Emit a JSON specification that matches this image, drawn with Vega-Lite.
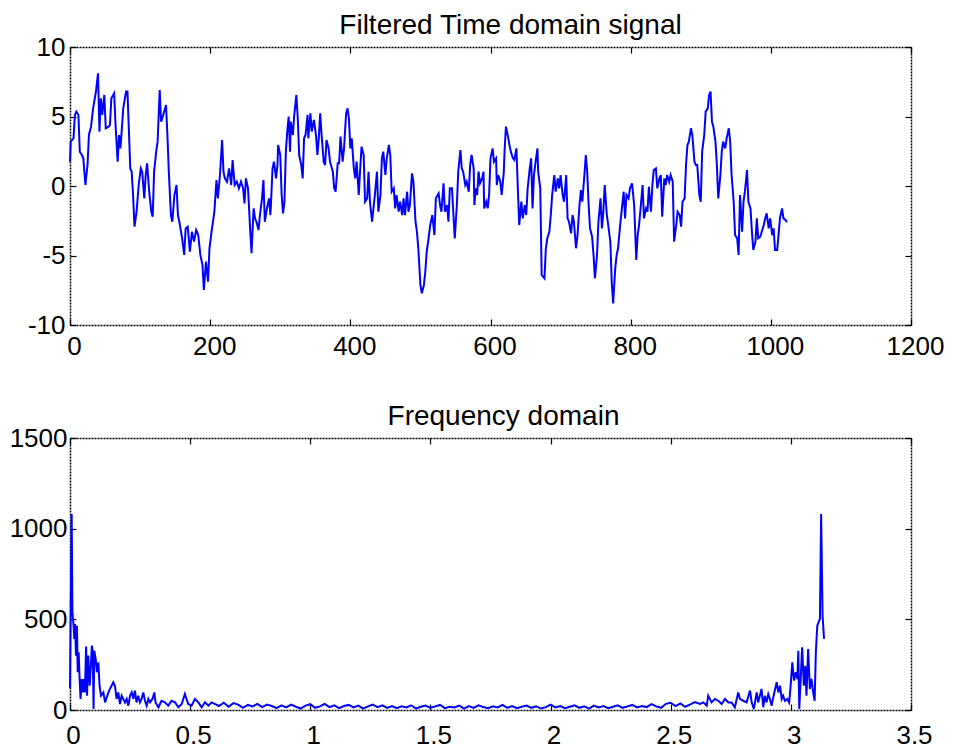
{
  "$schema": "https://vega.github.io/schema/vega-lite/v6.json",
  "background": "white",
  "padding": {"left": 9, "top": 12, "right": 5, "bottom": 0},
  "spacing": 44,
  "config": {
    "view": {"stroke": null},
    "font": "Liberation Sans",
    "axis": {
      "domainColor": "black", "domainDash": [2, 1], "domainWidth": 1.5,
      "tickColor": "black", "tickSize": -6, "tickWidth": 1.2,
      "grid": false, "labelFont": "Liberation Sans", "labelFontSize": 26,
      "labelColor": "black", "labelFlush": false, "labelOverlap": false, "labelBound": false
    },
    "title": {"font": "Liberation Sans", "fontSize": 28, "fontWeight": "normal", "color": "black", "anchor": "middle", "baseline": "alphabetic", "offset": -6}
  },
  "datasets": {
    "sig": [
      {"n":0,"v":1.75},{"n":1,"v":3.19},{"n":5,"v":3.43},{"n":7,"v":5.11},{"n":9,"v":5.35},{"n":12,"v":5.11},{"n":14,"v":2.47},{"n":17,"v":2.23},{"n":19,"v":1.99},{"n":22,"v":0.07},{"n":25,"v":1.51},{"n":27,"v":3.67},{"n":30,"v":4.27},{"n":33,"v":5.59},{"n":37,"v":6.79},{"n":40,"v":8.11},{"n":42,"v":3.91},{"n":44,"v":6.31},{"n":46,"v":5.11},{"n":49,"v":6.55},{"n":51,"v":4.15},{"n":55,"v":4.27},{"n":57,"v":4.39},{"n":59,"v":6.31},{"n":63,"v":6.67},{"n":65,"v":4.39},{"n":68,"v":1.75},{"n":70,"v":3.67},{"n":72,"v":2.71},{"n":76,"v":5.59},{"n":80,"v":6.79},{"n":82,"v":6.79},{"n":86,"v":1.27},{"n":88,"v":1.03},{"n":90,"v":-0.65},{"n":92,"v":-2.93},{"n":95,"v":-1.85},{"n":98,"v":0.07},{"n":101,"v":1.27},{"n":103,"v":1.03},{"n":106,"v":-0.89},{"n":108,"v":0.79},{"n":110,"v":1.63},{"n":113,"v":-0.41},{"n":116,"v":-1.85},{"n":118,"v":-2.21},{"n":120,"v":1.03},{"n":123,"v":2.47},{"n":125,"v":3.19},{"n":128,"v":6.91},{"n":130,"v":4.63},{"n":133,"v":5.11},{"n":137,"v":5.83},{"n":139,"v":3.67},{"n":141,"v":1.03},{"n":144,"v":-2.09},{"n":146,"v":-2.57},{"n":149,"v":-0.65},{"n":152,"v":0.07},{"n":154,"v":-2.09},{"n":156,"v":-2.57},{"n":160,"v":-3.77},{"n":163,"v":-4.96},{"n":165,"v":-3.05},{"n":168,"v":-2.93},{"n":171,"v":-4.72},{"n":174,"v":-3.29},{"n":177,"v":-4.0},{"n":180,"v":-3.17},{"n":183,"v":-3.53},{"n":186,"v":-4.96},{"n":189,"v":-5.68},{"n":191,"v":-7.48},{"n":194,"v":-5.44},{"n":197,"v":-6.88},{"n":199,"v":-4.48},{"n":202,"v":-3.29},{"n":206,"v":-1.85},{"n":209,"v":0.43},{"n":211,"v":-0.89},{"n":214,"v":0.79},{"n":217,"v":3.31},{"n":219,"v":1.03},{"n":221,"v":0.55},{"n":224,"v":0.31},{"n":227,"v":1.27},{"n":230,"v":0.07},{"n":232,"v":1.87},{"n":235,"v":0.07},{"n":238,"v":0.31},{"n":241,"v":-0.17},{"n":244,"v":0.31},{"n":247,"v":-0.17},{"n":249,"v":-1.25},{"n":251,"v":0.55},{"n":254,"v":-0.17},
      {"n":257,"v":-3.05},{"n":259,"v":-4.84},{"n":262,"v":-1.61},{"n":264,"v":-2.33},{"n":266,"v":-2.57},{"n":269,"v":-3.17},{"n":271,"v":-2.09},{"n":274,"v":-0.89},{"n":276,"v":0.43},{"n":278,"v":-2.57},{"n":281,"v":-1.61},{"n":284,"v":-0.89},{"n":286,"v":-2.09},{"n":289,"v":1.27},{"n":291,"v":1.75},{"n":294,"v":0.55},{"n":296,"v":1.51},{"n":297,"v":2.95},{"n":300,"v":2.23},{"n":302,"v":-0.65},{"n":304,"v":-1.97},{"n":306,"v":-1.13},{"n":308,"v":2.47},{"n":310,"v":3.91},{"n":312,"v":4.99},{"n":314,"v":2.47},{"n":315,"v":4.63},{"n":318,"v":3.67},{"n":320,"v":5.11},{"n":323,"v":6.55},{"n":325,"v":4.87},{"n":327,"v":2.23},{"n":330,"v":1.51},{"n":332,"v":0.55},{"n":334,"v":3.43},{"n":336,"v":3.67},{"n":339,"v":5.11},{"n":340,"v":3.43},{"n":343,"v":5.23},{"n":345,"v":3.91},{"n":348,"v":4.75},{"n":351,"v":3.67},{"n":353,"v":2.23},{"n":355,"v":3.43},{"n":357,"v":5.23},{"n":359,"v":3.67},{"n":362,"v":1.75},{"n":364,"v":1.51},{"n":366,"v":3.31},{"n":369,"v":2.71},{"n":371,"v":1.75},{"n":375,"v":1.03},{"n":377,"v":-0.17},{"n":379,"v":-0.41},{"n":382,"v":1.63},{"n":384,"v":1.63},{"n":386,"v":3.55},{"n":389,"v":1.75},{"n":391,"v":2.71},{"n":394,"v":5.23},{"n":396,"v":5.59},{"n":398,"v":4.87},{"n":400,"v":2.71},{"n":402,"v":3.43},{"n":405,"v":1.27},{"n":407,"v":0.55},{"n":409,"v":1.75},{"n":412,"v":-0.65},{"n":414,"v":1.15},{"n":416,"v":2.83},{"n":419,"v":2.23},{"n":421,"v":-1.13},{"n":424,"v":-0.89},{"n":426,"v":1.03},{"n":428,"v":-1.13},{"n":431,"v":-2.57},{"n":433,"v":-1.61},{"n":435,"v":-0.65},{"n":438,"v":1.03},{"n":440,"v":-1.85},{"n":443,"v":-0.65},{"n":445,"v":1.99},{"n":447,"v":2.47},{"n":450,"v":0.79},{"n":452,"v":1.99},{"n":455,"v":2.95},{"n":457,"v":2.23},{"n":459,"v":-0.41},{"n":462,"v":-0.17},{"n":464,"v":-1.61},{"n":466,"v":-0.65},{"n":469,"v":-1.85},{"n":471,"v":-1.13},{"n":474,"v":-2.09},{"n":476,"v":-0.89},{"n":478,"v":-2.09},{"n":481,"v":-0.41},{"n":483,"v":-1.85},{"n":485,"v":-1.37},{"n":488,"v":0.91},{"n":490,"v":0.31},{"n":493,"v":-2.57},{"n":495,"v":-3.29},{"n":497,"v":-4.48},{"n":500,"v":-7.12},{"n":502,"v":-7.72},{"n":505,"v":-7.12},
      {"n":507,"v":-6.16},{"n":509,"v":-4.72},{"n":511,"v":-4.01},{"n":514,"v":-2.81},{"n":517,"v":-2.09},{"n":520,"v":-3.53},{"n":522,"v":-0.89},{"n":526,"v":-0.53},{"n":528,"v":-1.37},{"n":530,"v":-1.85},{"n":533,"v":0.19},{"n":535,"v":-1.85},{"n":538,"v":-1.37},{"n":540,"v":-2.57},{"n":542,"v":-0.17},{"n":545,"v":-0.17},{"n":549,"v":-3.77},{"n":552,"v":-1.37},{"n":554,"v":1.03},{"n":557,"v":2.59},{"n":559,"v":1.27},{"n":561,"v":1.03},{"n":564,"v":0.07},{"n":566,"v":0.31},{"n":569,"v":-0.41},{"n":571,"v":1.51},{"n":573,"v":2.23},{"n":576,"v":1.27},{"n":577,"v":-1.37},{"n":579,"v":-0.17},{"n":581,"v":-0.65},{"n":583,"v":1.03},{"n":585,"v":0.19},{"n":588,"v":0.55},{"n":590,"v":1.03},{"n":591,"v":-1.61},{"n":594,"v":-1.13},{"n":596,"v":-1.61},{"n":598,"v":-0.65},{"n":600,"v":1.99},{"n":603,"v":2.71},{"n":605,"v":1.75},{"n":608,"v":1.99},{"n":609,"v":0.07},{"n":611,"v":0.79},{"n":614,"v":0.31},{"n":616,"v":-0.65},{"n":619,"v":1.03},{"n":620,"v":2.47},{"n":622,"v":4.27},{"n":625,"v":3.55},{"n":627,"v":2.95},{"n":629,"v":2.47},{"n":632,"v":1.99},{"n":634,"v":1.87},{"n":637,"v":2.71},{"n":639,"v":-0.17},{"n":641,"v":-2.81},{"n":644,"v":-1.13},{"n":646,"v":-2.33},{"n":649,"v":-1.37},{"n":651,"v":-2.09},{"n":653,"v":-0.17},{"n":656,"v":1.27},{"n":658,"v":1.99},{"n":660,"v":-1.61},{"n":662,"v":0.79},{"n":665,"v":1.99},{"n":667,"v":2.71},{"n":668,"v":1.03},{"n":671,"v":-0.17},{"n":673,"v":-6.4},{"n":677,"v":-6.64},{"n":679,"v":-4.48},{"n":681,"v":-3.77},{"n":684,"v":-3.29},{"n":686,"v":-2.09},{"n":688,"v":-0.65},{"n":691,"v":0.79},{"n":693,"v":-0.41},{"n":696,"v":0.55},{"n":698,"v":-0.17},{"n":700,"v":0.79},{"n":703,"v":-0.65},{"n":705,"v":-1.13},{"n":708,"v":0.79},{"n":710,"v":-2.33},{"n":712,"v":-2.57},{"n":715,"v":-3.41},{"n":717,"v":-2.09},{"n":719,"v":-2.57},{"n":722,"v":-4.48},{"n":724,"v":-3.65},{"n":727,"v":-1.37},{"n":729,"v":-0.29},{"n":731,"v":-1.13},{"n":734,"v":0.79},{"n":736,"v":2.23},{"n":738,"v":1.03},{"n":740,"v":-1.37},{"n":742,"v":-3.05},{"n":745,"v":-3.65},{"n":747,"v":-4.96},{"n":749,"v":-6.64},{"n":752,"v":-4.96},{"n":754,"v":-2.57},{"n":757,"v":-0.89},{"n":759,"v":-3.05},{"n":761,"v":-1.85},
      {"n":763,"v":0.07},{"n":766,"v":-2.09},{"n":768,"v":-2.81},{"n":771,"v":-4.01},{"n":773,"v":-6.88},{"n":775,"v":-8.44},{"n":778,"v":-5.92},{"n":780,"v":-4.96},{"n":782,"v":-4.48},{"n":785,"v":-2.81},{"n":787,"v":-1.85},{"n":790,"v":-0.41},{"n":792,"v":-2.33},{"n":794,"v":-0.65},{"n":797,"v":-0.89},{"n":799,"v":-0.17},{"n":802,"v":0.19},{"n":805,"v":-1.37},{"n":808,"v":-5.32},{"n":810,"v":-3.53},{"n":812,"v":-2.81},{"n":815,"v":-1.13},{"n":817,"v":0.07},{"n":819,"v":-2.33},{"n":822,"v":-1.61},{"n":824,"v":-1.85},{"n":826,"v":-0.05},{"n":829,"v":-1.85},{"n":831,"v":0.07},{"n":833,"v":1.15},{"n":836,"v":1.27},{"n":838,"v":-0.17},{"n":841,"v":0.55},{"n":843,"v":0.79},{"n":845,"v":-2.21},{"n":848,"v":0.55},{"n":850,"v":0.07},{"n":852,"v":0.79},{"n":855,"v":0.31},{"n":857,"v":0.79},{"n":860,"v":0.31},{"n":862,"v":-4.01},{"n":865,"v":-2.81},{"n":867,"v":-1.85},{"n":870,"v":-2.09},{"n":872,"v":-2.93},{"n":874,"v":-1.13},{"n":877,"v":-0.89},{"n":879,"v":1.51},{"n":881,"v":2.95},{"n":883,"v":3.19},{"n":886,"v":4.15},{"n":888,"v":3.67},{"n":891,"v":1.75},{"n":893,"v":1.51},{"n":895,"v":1.51},{"n":898,"v":-0.65},{"n":900,"v":-1.13},{"n":902,"v":2.47},{"n":905,"v":3.67},{"n":907,"v":5.35},{"n":910,"v":5.59},{"n":912,"v":6.55},{"n":914,"v":6.79},{"n":916,"v":4.63},{"n":918,"v":4.27},{"n":921,"v":3.19},{"n":923,"v":1.51},{"n":925,"v":-0.89},{"n":928,"v":0.79},{"n":930,"v":2.47},{"n":932,"v":3.19},{"n":935,"v":2.71},{"n":937,"v":3.43},{"n":940,"v":4.15},{"n":942,"v":3.19},{"n":944,"v":0.79},{"n":947,"v":-1.13},{"n":949,"v":-3.53},{"n":952,"v":-3.77},{"n":954,"v":-4.96},{"n":956,"v":-0.65},{"n":959,"v":-3.29},{"n":961,"v":-1.13},{"n":963,"v":-0.41},{"n":966,"v":1.15},{"n":968,"v":-1.13},{"n":971,"v":-1.61},{"n":973,"v":-3.29},{"n":975,"v":-4.6},{"n":978,"v":-4.01},{"n":980,"v":-2.33},{"n":982,"v":-3.77},{"n":985,"v":-3.65},{"n":987,"v":-3.29},{"n":990,"v":-2.81},{"n":992,"v":-2.33},{"n":994,"v":-1.97},{"n":997,"v":-3.05},{"n":999,"v":-2.33},{"n":1002,"v":-3.53},{"n":1004,"v":-3.05},{"n":1006,"v":-4.6},{"n":1009,"v":-4.6},{"n":1011,"v":-3.53},{"n":1013,"v":-2.33},{"n":1016,"v":-1.61},{"n":1018,"v":-2.33},{"n":1021,"v":-2.45},{"n":1023,"v":-2.6}
    ],
    "spec": [
      {"f":0,"a":120},{"f":0.003,"a":560},{"f":0.007,"a":1081},{"f":0.01,"a":539},{"f":0.014,"a":483},{"f":0.018,"a":392},{"f":0.021,"a":474},{"f":0.025,"a":300},{"f":0.029,"a":465},{"f":0.032,"a":208},{"f":0.036,"a":318},{"f":0.04,"a":171},{"f":0.044,"a":61},{"f":0.049,"a":171},{"f":0.053,"a":97},{"f":0.058,"a":171},{"f":0.062,"a":97},{"f":0.067,"a":350},{"f":0.071,"a":79},{"f":0.076,"a":300},{"f":0.082,"a":134},{"f":0.087,"a":244},{"f":0.091,"a":355},{"f":0.095,"a":318},{"f":0.098,"a":6},{"f":0.101,"a":327},{"f":0.107,"a":281},{"f":0.112,"a":208},{"f":0.118,"a":263},{"f":0.123,"a":134},{"f":0.129,"a":79},{"f":0.139,"a":97},{"f":0.146,"a":42},{"f":0.153,"a":70},{"f":0.16,"a":97},{"f":0.166,"a":116},{"f":0.173,"a":134},{"f":0.18,"a":153},{"f":0.187,"a":134},{"f":0.194,"a":61},{"f":0.201,"a":97},{"f":0.208,"a":33},{"f":0.215,"a":79},{"f":0.222,"a":61},{"f":0.229,"a":42},{"f":0.236,"a":61},{"f":0.243,"a":24},{"f":0.25,"a":79},{"f":0.257,"a":97},{"f":0.264,"a":61},{"f":0.27,"a":107},{"f":0.277,"a":42},{"f":0.284,"a":79},{"f":0.291,"a":42},{"f":0.298,"a":61},{"f":0.305,"a":97},{"f":0.312,"a":51},{"f":0.319,"a":24},{"f":0.326,"a":61},{"f":0.333,"a":42},{"f":0.343,"a":61},{"f":0.351,"a":97},{"f":0.356,"a":42},{"f":0.368,"a":15},{"f":0.381,"a":51},{"f":0.395,"a":42},{"f":0.409,"a":24},{"f":0.423,"a":51},{"f":0.437,"a":42},{"f":0.451,"a":15},{"f":0.465,"a":33},{"f":0.478,"a":88},{"f":0.492,"a":33},{"f":0.506,"a":24},{"f":0.52,"a":61},{"f":0.534,"a":42},{"f":0.548,"a":15},{"f":0.562,"a":42},{"f":0.576,"a":24},{"f":0.589,"a":42},
      {"f":0.6,"a":35},{"f":0.62,"a":22},{"f":0.64,"a":40},{"f":0.66,"a":18},{"f":0.68,"a":38},{"f":0.7,"a":30},{"f":0.72,"a":12},{"f":0.74,"a":28},{"f":0.76,"a":20},{"f":0.78,"a":34},{"f":0.8,"a":16},{"f":0.82,"a":30},{"f":0.84,"a":22},{"f":0.86,"a":10},{"f":0.88,"a":26},{"f":0.9,"a":14},{"f":0.92,"a":30},{"f":0.94,"a":18},{"f":0.96,"a":8},{"f":0.98,"a":24},{"f":1.0,"a":32},{"f":1.02,"a":12},{"f":1.04,"a":20},{"f":1.06,"a":34},{"f":1.08,"a":16},{"f":1.1,"a":26},{"f":1.12,"a":10},{"f":1.14,"a":22},{"f":1.16,"a":28},{"f":1.18,"a":14},{"f":1.2,"a":24},{"f":1.22,"a":8},{"f":1.24,"a":20},{"f":1.26,"a":30},{"f":1.28,"a":16},{"f":1.3,"a":26},{"f":1.32,"a":12},{"f":1.34,"a":22},{"f":1.36,"a":10},{"f":1.38,"a":20},{"f":1.4,"a":14},{"f":1.42,"a":26},{"f":1.44,"a":8},{"f":1.46,"a":18},{"f":1.48,"a":24},{"f":1.5,"a":12},{"f":1.52,"a":20},{"f":1.54,"a":28},{"f":1.56,"a":10},{"f":1.58,"a":18},{"f":1.6,"a":14},{"f":1.62,"a":24},{"f":1.64,"a":8},{"f":1.66,"a":22},{"f":1.68,"a":12},{"f":1.7,"a":26},{"f":1.72,"a":16},{"f":1.74,"a":10},{"f":1.76,"a":20},{"f":1.78,"a":14},{"f":1.8,"a":28},{"f":1.82,"a":12},{"f":1.84,"a":22},{"f":1.86,"a":10},{"f":1.88,"a":18},{"f":1.9,"a":24},{"f":1.92,"a":12},{"f":1.94,"a":20},{"f":1.96,"a":8},{"f":1.98,"a":16},{"f":2.0,"a":30},{"f":2.02,"a":14},{"f":2.04,"a":22},{"f":2.06,"a":10},{"f":2.08,"a":18},{"f":2.1,"a":26},{"f":2.12,"a":12},{"f":2.14,"a":20},{"f":2.16,"a":8},{"f":2.18,"a":24},{"f":2.2,"a":14},{"f":2.22,"a":22},{"f":2.24,"a":10},{"f":2.26,"a":18},{"f":2.28,"a":26},{"f":2.3,"a":12},{"f":2.32,"a":20},{"f":2.34,"a":28},{"f":2.36,"a":14},{"f":2.38,"a":22},{"f":2.4,"a":16},{"f":2.42,"a":32},{"f":2.44,"a":20},{"f":2.46,"a":12},{"f":2.48,"a":34},{"f":2.5,"a":40},{"f":2.52,"a":22},{"f":2.54,"a":36},{"f":2.56,"a":18},{"f":2.58,"a":30},{"f":2.6,"a":44},
      {"f":2.622,"a":33},{"f":2.636,"a":42},{"f":2.65,"a":24},{"f":2.656,"a":79},{"f":2.67,"a":42},{"f":2.684,"a":61},{"f":2.698,"a":51},{"f":2.712,"a":33},{"f":2.726,"a":61},{"f":2.74,"a":42},{"f":2.753,"a":42},{"f":2.767,"a":15},{"f":2.781,"a":97},{"f":2.788,"a":61},{"f":2.802,"a":51},{"f":2.816,"a":42},{"f":2.83,"a":107},{"f":2.837,"a":42},{"f":2.846,"a":6},{"f":2.858,"a":97},{"f":2.864,"a":42},{"f":2.878,"a":116},{"f":2.885,"a":15},{"f":2.892,"a":79},{"f":2.899,"a":42},{"f":2.906,"a":88},{"f":2.913,"a":61},{"f":2.92,"a":24},{"f":2.927,"a":70},{"f":2.941,"a":153},{"f":2.948,"a":97},{"f":2.955,"a":134},{"f":2.962,"a":61},{"f":2.968,"a":79},{"f":2.975,"a":51},{"f":2.985,"a":61},{"f":2.993,"a":42},{"f":2.998,"a":116},{"f":3.006,"a":263},{"f":3.013,"a":162},{"f":3.02,"a":208},{"f":3.027,"a":171},{"f":3.031,"a":327},{"f":3.035,"a":6},{"f":3.041,"a":171},{"f":3.047,"a":346},{"f":3.054,"a":134},{"f":3.06,"a":244},{"f":3.065,"a":79},{"f":3.072,"a":336},{"f":3.079,"a":116},{"f":3.086,"a":171},{"f":3.093,"a":97},{"f":3.099,"a":51},{"f":3.104,"a":318},{"f":3.11,"a":465},{"f":3.115,"a":483},{"f":3.121,"a":502},{"f":3.126,"a":1081},{"f":3.132,"a":520},{"f":3.138,"a":392}
    ]
  },
  "vconcat": [
    {
      "width": 841, "height": 278,
      "title": {"text": "Filtered Time domain signal", "dx": 20},
      "data": {"name": "sig"},
      "layer": [
        {
          "mark": {"type": "line", "color": "#0000ff", "strokeWidth": 2},
          "encoding": {
            "x": {"field": "n", "type": "quantitative", "scale": {"domain": [0, 1200], "nice": false, "zero": false},
                  "axis": {"orient": "bottom", "title": null, "values": [0, 200, 400, 600, 800, 1000, 1200], "labelPadding": 14, "labelOffset": 4, "labelExpr": "'' + datum.value"}},
            "y": {"field": "v", "type": "quantitative", "scale": {"domain": [-10, 10], "nice": false, "zero": false},
                  "axis": {"orient": "left", "title": null, "values": [-10, -5, 0, 5, 10], "labelPadding": 11, "labelExpr": "'' + datum.value"}}
          }
        },
        {
          "mark": {"type": "line", "strokeOpacity": 0},
          "encoding": {
            "x": {"field": "n", "type": "quantitative", "axis": {"orient": "top", "title": null, "labels": false, "values": [0, 200, 400, 600, 800, 1000, 1200]}},
            "y": {"field": "v", "type": "quantitative", "axis": {"orient": "right", "title": null, "labels": false, "values": [-10, -5, 0, 5, 10]}}
          }
        }
      ],
      "resolve": {"axis": {"x": "independent", "y": "independent"}}
    },
    {
      "width": 841, "height": 272,
      "title": {"text": "Frequency domain", "dx": 13},
      "data": {"name": "spec"},
      "layer": [
        {
          "mark": {"type": "line", "color": "#0000ff", "strokeWidth": 2},
          "encoding": {
            "x": {"field": "f", "type": "quantitative", "scale": {"domain": [0, 3.5], "nice": false, "zero": false},
                  "axis": {"orient": "bottom", "title": null, "values": [0, 0.5, 1, 1.5, 2, 2.5, 3, 3.5], "labelPadding": 18, "labelOffset": 3, "labelExpr": "'' + datum.value"}},
            "y": {"field": "a", "type": "quantitative", "scale": {"domain": [0, 1500], "nice": false},
                  "axis": {"orient": "left", "title": null, "values": [0, 500, 1000, 1500], "labelPadding": 9, "labelExpr": "'' + datum.value"}}
          }
        },
        {
          "mark": {"type": "line", "strokeOpacity": 0},
          "encoding": {
            "x": {"field": "f", "type": "quantitative", "axis": {"orient": "top", "title": null, "labels": false, "values": [0, 0.5, 1, 1.5, 2, 2.5, 3, 3.5]}},
            "y": {"field": "a", "type": "quantitative", "axis": {"orient": "right", "title": null, "labels": false, "values": [0, 500, 1000, 1500]}}
          }
        }
      ],
      "resolve": {"axis": {"x": "independent", "y": "independent"}}
    }
  ]
}
